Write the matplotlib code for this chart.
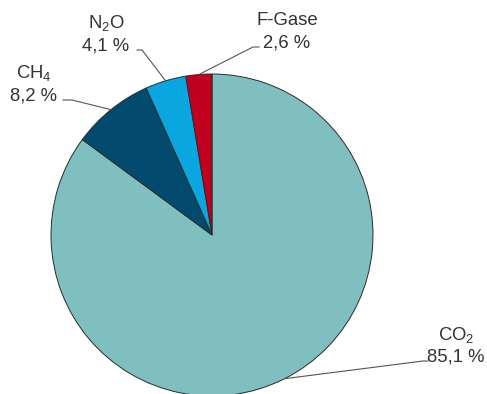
import numpy as np
import matplotlib.pyplot as plt

plt.rcParams['font.family'] = ['Liberation Sans', 'DejaVu Sans']
plt.rcParams['mathtext.fontset'] = 'custom'
plt.rcParams['mathtext.rm'] = 'Liberation Sans'
plt.rcParams['mathtext.it'] = 'Liberation Sans'

# Anteile der Treibhausgase in Prozent
gase = ['CO$_2$', 'CH$_4$', 'N$_2$O', 'F-Gase']
anteile = [85.1, 8.2, 4.1, 2.6]
farben = ['#80bfc0', '#024b6e', '#0aa6df', '#c0001f']

# Grundlinie der Prozentzeile (Pixel, y von oben) und Hinweislinien-Knick
text_pos = [(456, 362), (34, 100), (106, 50), (287, 47)]
knick = [[(423, 361), (428, 361)],
         [(72, 100), (63, 100)],
         [(142, 50), (137, 50)],
         [(253, 47), (259, 47)]]

W, H = 487, 394
fig = plt.figure(figsize=(W / 100, H / 100), dpi=100)
ax = fig.add_axes([0, 0, 1, 1])

mitte = (212, H - 235)
radius = 161
wedges, _ = ax.pie(anteile, colors=farben, startangle=90, counterclock=False,
                   center=mitte, radius=radius,
                   wedgeprops=dict(edgecolor='#2b2b2b', linewidth=0.7))
ax.set_xlim(0, W)
ax.set_ylim(0, H)
ax.set_aspect('equal')
ax.axis('off')

for w, name, wert, (tx, ty), pts in zip(wedges, gase, anteile, text_pos, knick):
    winkel = np.deg2rad((w.theta1 + w.theta2) / 2)
    x0 = mitte[0] + radius * np.cos(winkel)
    y0 = mitte[1] + radius * np.sin(winkel)
    xs = [x0] + [p[0] for p in pts]
    ys = [y0] + [H - p[1] for p in pts]
    ax.plot(xs, ys, color='#555555', linewidth=0.8, clip_on=False)
    ax.text(tx, H - ty + 22, name, ha='center', va='baseline', fontsize=13.3, color='#333333')
    ax.text(tx, H - ty, f'{wert:.1f} %'.replace('.', ','), ha='center', va='baseline',
            fontsize=13.3, color='#333333')

fig.savefig('out.png', dpi=100)
